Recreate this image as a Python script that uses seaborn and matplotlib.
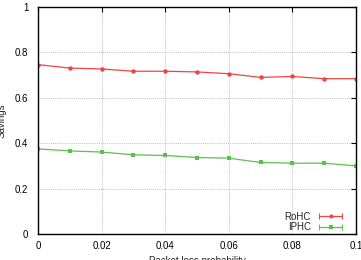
import matplotlib
matplotlib.use("Agg")
import matplotlib.pyplot as plt
import seaborn as sns
import pandas as pd
from matplotlib.lines import Line2D
from matplotlib.legend_handler import HandlerTuple, HandlerLine2D

loss = [0.0, 0.01, 0.02, 0.03, 0.04, 0.05, 0.06, 0.07, 0.08, 0.09, 0.1]
rohc = [0.746, 0.731, 0.727, 0.717, 0.717, 0.714, 0.706, 0.690, 0.694, 0.684, 0.684]
iphc = [0.375, 0.366, 0.361, 0.349, 0.346, 0.337, 0.334, 0.315, 0.312, 0.312, 0.300]
series = ["RoHC", "IPHC"]
xticks = [0, 0.02, 0.04, 0.06, 0.08, 0.1]
xticklabels = ["0", "0.02", "0.04", "0.06", "0.08", "0.1"]
yticks = [0, 0.2, 0.4, 0.6, 0.8, 1]
yticklabels = ["0", "0.2", "0.4", "0.6", "0.8", "1"]

df = pd.DataFrame({
    "loss": loss * 2,
    "savings": rohc + iphc,
    "scheme": [series[0]] * len(loss) + [series[1]] * len(loss),
})

sns.set_style("white")
plt.rcParams["font.family"] = ["Liberation Sans", "DejaVu Sans"]

colors = {"RoHC": "#ee4444", "IPHC": "#5cc04c"}
markers = {"RoHC": "o", "IPHC": "s"}

fig = plt.figure(figsize=(3.61, 2.60), dpi=100)
ax = fig.add_axes([38 / 361, 1 - 234 / 260, (356 - 38) / 361, (234 - 7) / 260])

sns.lineplot(data=df, x="loss", y="savings", hue="scheme", style="scheme",
             palette=colors, markers=markers, dashes=False, ax=ax,
             linewidth=0.9, markersize=3.2, markeredgewidth=0, legend=False)

ax.set_xlim(0, 0.1)
ax.set_ylim(0, 1)
ax.set_xticks(xticks)
ax.set_xticklabels(xticklabels)
ax.set_yticks(yticks)
ax.set_yticklabels(yticklabels)
ax.tick_params(direction="in", length=3.5, width=0.8, labelsize=7, top=True, right=True,
               colors="black")
ax.tick_params(axis="y", pad=7)
ax.tick_params(axis="x", pad=5)
ax.grid(True, color="#aaaaaa", linestyle=(0, (1, 1.5)), linewidth=0.6)
for s in ax.spines.values():
    s.set_color("black")
    s.set_linewidth(1.0)

ax.set_xlabel("Packet loss probability", fontsize=7, labelpad=4)
ax.set_ylabel("Savings", fontsize=7, labelpad=6)

handles = []
hmap = {tuple: HandlerTuple(ndivide=1)}
for name in series:
    ends = Line2D([], [], color=colors[name], linewidth=0.9, marker="|", markersize=4,
                  markeredgewidth=0.8)
    mid = Line2D([], [], color=colors[name], linewidth=0, marker=markers[name],
                 markersize=3, markeredgewidth=0)
    hmap[ends] = HandlerLine2D(numpoints=2)
    hmap[mid] = HandlerLine2D(numpoints=1)
    handles.append((ends, mid))

ax.legend(handles, series, handler_map=hmap, loc="lower right", frameon=False,
          fontsize=7, markerfirst=False, handlelength=3.0, handletextpad=0.5,
          labelspacing=0.05, borderaxespad=0, bbox_to_anchor=(0.978, -0.01))

fig.savefig("out.png", dpi=100)
